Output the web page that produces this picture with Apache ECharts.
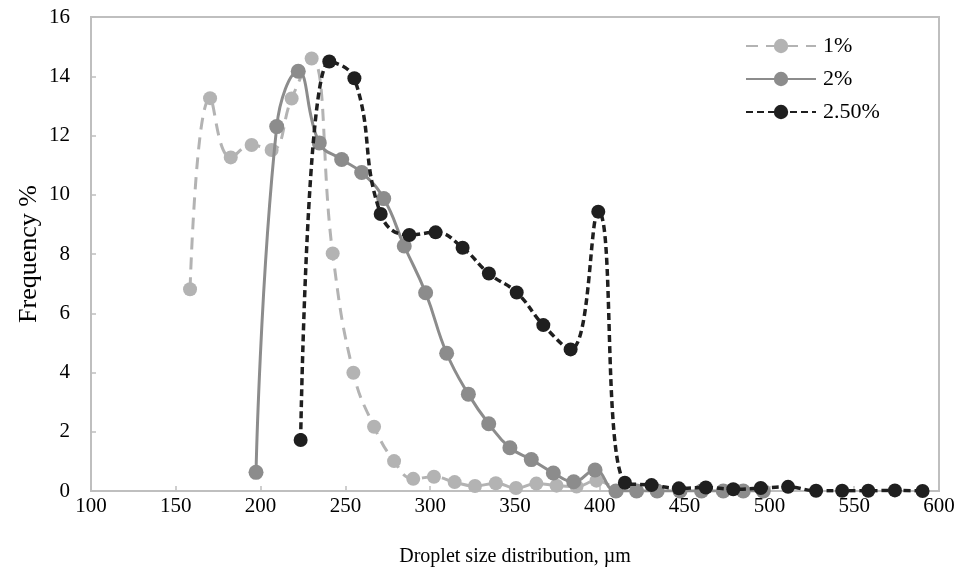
<!DOCTYPE html>
<html>
<head>
<meta charset="utf-8">
<title>Droplet size distribution</title>
<script src="https://cdn.jsdelivr.net/npm/echarts@6/dist/echarts.min.js"></script>
<style>
  html, body { margin: 0; padding: 0; background: #fff; }
  #chart { width: 961px; height: 573px; }
</style>
</head>
<body>
<div id="chart"></div>
<script>
// Droplet size (µm) and frequency (%) for each surfactant concentration
const seriesNames = ['1%', '2%', '2.50%'];

const size1 = [158.4, 170.2, 182.4, 194.7, 206.5, 218.3, 230.1, 242.5, 254.7, 266.9, 278.7,
  290.0, 302.2, 314.4, 326.4, 338.7, 350.6, 362.6, 374.5, 386.3, 398.0, 410.0];
const freq1 = [6.81, 13.26, 11.26, 11.68, 11.51, 13.25, 14.60, 8.02, 3.99, 2.17, 1.01,
  0.41, 0.48, 0.30, 0.17, 0.26, 0.10, 0.25, 0.18, 0.15, 0.35, 0.00];

const size2 = [197.3, 209.5, 222.2, 234.6, 247.8, 259.6, 272.6, 284.7, 297.3, 309.7, 322.5,
  334.5, 347.0, 359.6, 372.6, 384.6, 397.2, 409.5, 421.7, 433.8, 447.3, 460.0, 472.8, 484.6, 496.4];
const freq2 = [0.63, 12.30, 14.17, 11.75, 11.19, 10.75, 9.87, 8.27, 6.69, 4.65, 3.27,
  2.27, 1.46, 1.06, 0.61, 0.31, 0.71, 0.00, 0.00, 0.00, 0.00, 0.00, 0.00, 0.00, 0.00];

const size3 = [223.6, 240.5, 255.3, 270.8, 287.7, 303.2, 319.1, 334.6, 351.0, 366.7, 382.8,
  399.1, 414.8, 430.5, 446.6, 462.5, 478.7, 494.9, 511.0, 527.5, 542.9, 558.3, 574.0, 590.3];
const freq3 = [1.72, 14.50, 13.93, 9.35, 8.64, 8.73, 8.21, 7.34, 6.70, 5.60, 4.78,
  9.43, 0.28, 0.20, 0.09, 0.12, 0.06, 0.10, 0.14, 0.01, 0.01, 0.01, 0.02, 0.00];

const xTicks = { min: 100, max: 600, step: 50 };
const yTicks = { min: 0, max: 16, step: 2 };

const pair = (xs, ys) => xs.map((x, i) => [x, ys[i]]);

const FONT = 'Liberation Serif';
const AXIS_GREY = '#bfbfbf';

const styles = [
  { color: '#b3b3b3', width: 3, type: [12, 8], symbolSize: 14 },
  { color: '#8c8c8c', width: 3, type: 'solid', symbolSize: 15 },
  { color: '#1f1f1f', width: 3.5, type: [7, 4], symbolSize: 14 }
];

const dataSets = [pair(size1, freq1), pair(size2, freq2), pair(size3, freq3)];

const chart = echarts.init(document.getElementById('chart'), null, { renderer: 'canvas' });

chart.setOption({
  animation: false,
  backgroundColor: '#ffffff',
  grid: {
    left: 91, right: 22, top: 17, bottom: 82,
    show: true, borderColor: AXIS_GREY, borderWidth: 2, backgroundColor: 'transparent'
  },
  legend: {
    left: 740, top: 30, orient: 'vertical',
    itemWidth: 70, itemHeight: 18, itemGap: 11,
    textStyle: { fontFamily: FONT, fontSize: 22, color: '#000', padding: [0, 0, 0, 2] },
    data: seriesNames
  },
  xAxis: {
    type: 'value',
    min: xTicks.min, max: xTicks.max, interval: xTicks.step,
    name: 'Droplet size distribution, µm',
    nameLocation: 'middle', nameGap: 56,
    nameTextStyle: { fontFamily: FONT, fontSize: 20, color: '#000' },
    axisLine: { lineStyle: { color: AXIS_GREY, width: 2 } },
    axisTick: { inside: true, length: 5, lineStyle: { color: AXIS_GREY, width: 1.5 } },
    axisLabel: { fontFamily: FONT, fontSize: 21, color: '#000', margin: 5 },
    splitLine: { show: false }
  },
  yAxis: {
    type: 'value',
    min: yTicks.min, max: yTicks.max, interval: yTicks.step,
    name: 'Frequency %',
    nameLocation: 'middle', nameGap: 49, nameRotate: 90,
    nameMoveOverlap: false,
    nameTextStyle: { fontFamily: FONT, fontSize: 26, color: '#000' },
    axisLine: { lineStyle: { color: AXIS_GREY, width: 2 } },
    axisTick: { inside: true, length: 5, lineStyle: { color: AXIS_GREY, width: 1.5 } },
    axisLabel: { fontFamily: FONT, fontSize: 21, color: '#000', margin: 21 },
    splitLine: { show: false }
  },
  series: seriesNames.map((name, i) => ({
    name,
    type: 'line',
    data: dataSets[i],
    smooth: 0.45,
    symbol: 'circle',
    symbolSize: styles[i].symbolSize,
    showSymbol: true,
    itemStyle: { color: styles[i].color, borderWidth: 0 },
    lineStyle: { color: styles[i].color, width: styles[i].width, type: styles[i].type },
    z: 2 + i
  }))
});
</script>
</body>
</html>
